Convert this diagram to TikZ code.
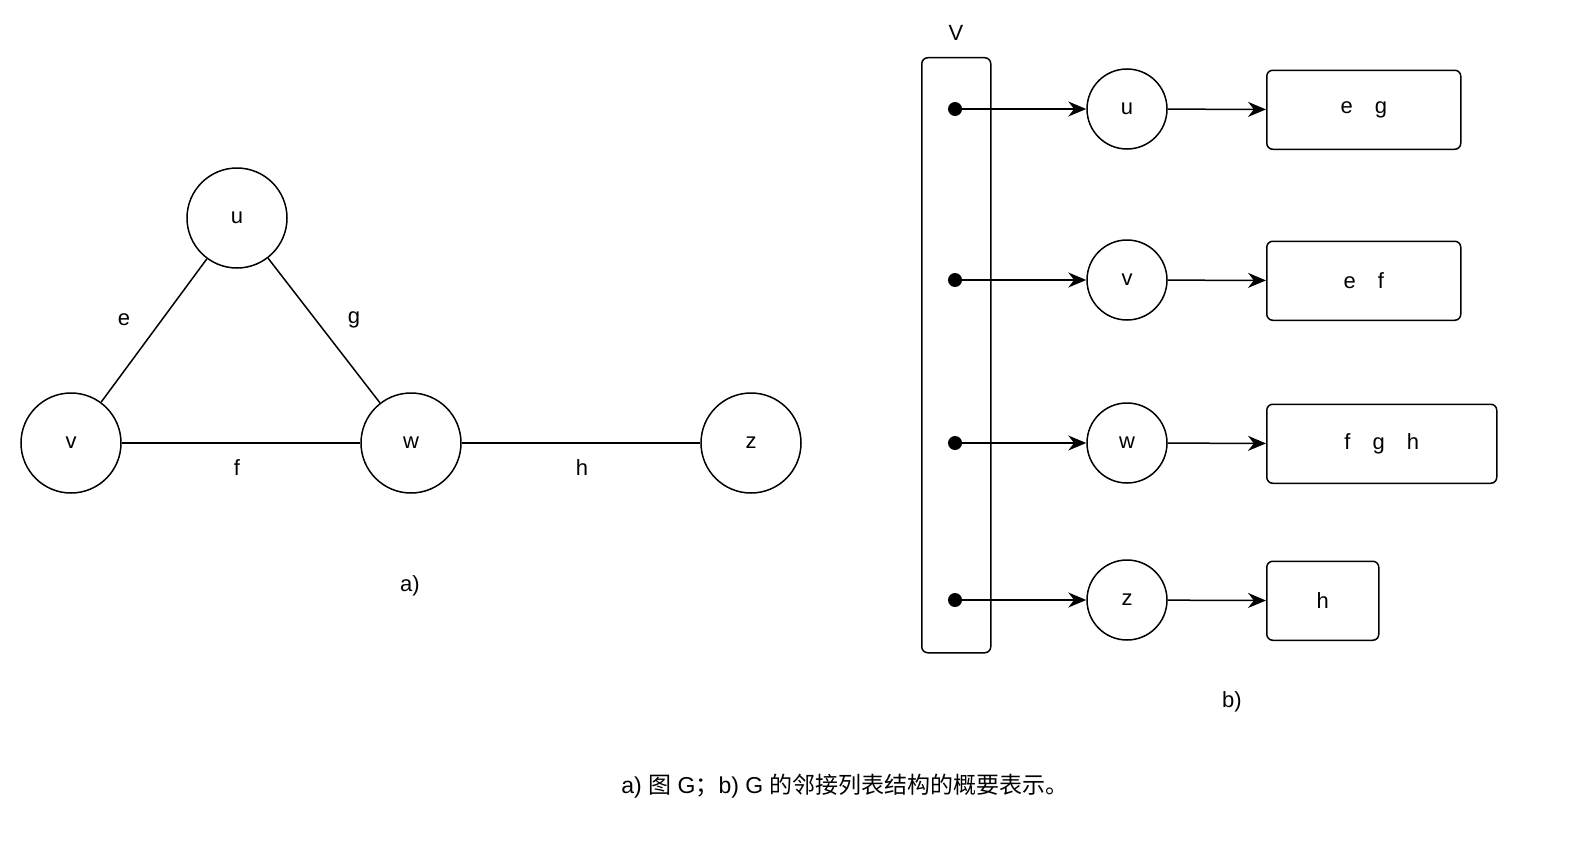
\documentclass[tikz,border=0pt]{standalone}
\usepackage{fontspec}
\setmainfont{Liberation Sans}
\newfontfamily\cjk{Noto Sans CJK SC}
\usetikzlibrary{arrows.meta}
\begin{document}
\begin{tikzpicture}[x=1pt,y=-1pt,
  vtx/.style={circle,draw,line width=1.5pt,minimum size=100pt,inner sep=0pt,font=\fontsize{22}{26}\selectfont},
  sv/.style={circle,draw,line width=1.5pt,minimum size=80pt,inner sep=0pt,font=\fontsize{22}{26}\selectfont},
  box/.style={draw,line width=1.5pt,rounded corners=6pt,anchor=north west,font=\fontsize{22}{26}\selectfont},
  lbl/.style={font=\fontsize{22}{26}\selectfont},
  ed/.style={line width=1.5pt},
  ar/.style={line width=1.5pt,-{Stealth[length=18pt,width=15pt]}}]
\useasboundingbox (0,0) rectangle (1586,867);
\node[vtx] (u) at (237,218) {u};
\node[vtx] (v) at (71,443) {v};
\node[vtx] (w) at (411,443) {w};
\node[vtx] (z) at (751,443) {z};
\draw[ed] (u) -- (v); \draw[ed] (u) -- (w); \draw[ed] (v) -- (w); \draw[ed] (w) -- (z);
\node[lbl] (le) at (124,320) {e};
\node[lbl] (lg) at (354,320) {g};
\node[lbl] (lf) at (237,468) {f};
\node[lbl] (lh) at (582,468) {h};
\node[lbl] (la) at (410,586) {a)};
\node[draw,line width=1.5pt,rounded corners=6pt,minimum width=69pt,minimum height=595pt,anchor=north west,inner sep=0pt] (V) at (921,57) {};
\node[lbl] (Vl) at (956,33) {V};
\foreach \n/\y/\w/\t in {u/109/194/{e\quad g},v/280/194/{e\quad f},w/443/230/{f\quad g\quad h},z/600/112/{h}}{
  \coordinate (d\n) at (955,\y);
  \fill (d\n) circle (7pt);
  \node[sv] (s\n) at (1127,\y) {\n};
  \node[box,minimum width=\w pt,minimum height=79pt,inner sep=0pt] (b\n) at (1266,\y-39.5) {\t};
  \draw[ar] (d\n) -- (s\n);
  \draw[ar] (s\n) -- (b\n);
}
\node[lbl] (lb) at (1232,702) {b)};
\node[font=\fontsize{23}{26}\selectfont] (cap) at (845,786) {a) {\cjk 图} G{\cjk ；}b) G {\cjk 的邻接列表结构的概要表示。}};
\end{tikzpicture}
\end{document}
